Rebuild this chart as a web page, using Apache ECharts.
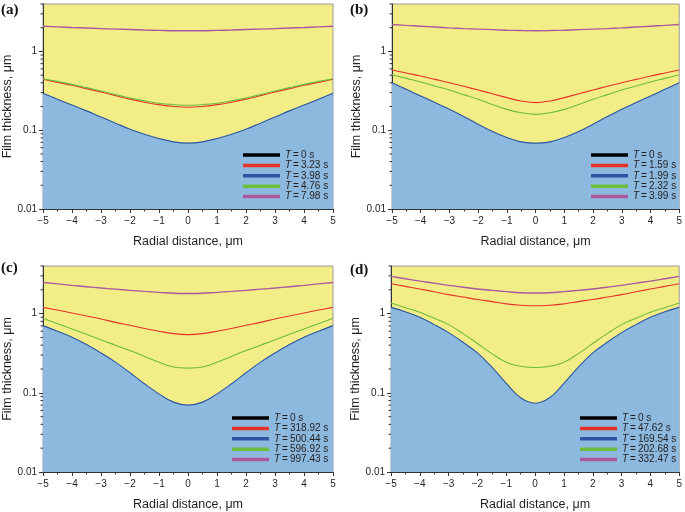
<!DOCTYPE html>
<html><head><meta charset="utf-8">
<script src="https://cdn.jsdelivr.net/npm/echarts@6/dist/echarts.min.js"></script>
<style>html,body{margin:0;padding:0;background:#fff}#c{width:685px;height:512px}</style>
</head><body><div id="c"></div>
<script>
// ---------- data ----------
const xValues = [-5, -4.5, -4, -3.5, -3, -2.5, -2, -1.5, -1, -0.5, 0, 0.5, 1, 1.5, 2, 2.5, 3, 3.5, 4, 4.5, 5];
const yTickLabels = ['0.01', '0.1', '1'];
const panelLabels = ['(a)', '(b)', '(c)', '(d)'];
const xAxisTitle = 'Radial distance, μm';
const yAxisTitle = 'Film thickness, μm';

const namesA = ['T = 0 s', 'T = 3.23 s', 'T = 3.98 s', 'T = 4.76 s', 'T = 7.98 s'];
const namesB = ['T = 0 s', 'T = 1.59 s', 'T = 1.99 s', 'T = 2.32 s', 'T = 3.99 s'];
const namesC = ['T = 0 s', 'T = 318.92 s', 'T = 500.44 s', 'T = 596.92 s', 'T = 997.43 s'];
const namesD = ['T = 0 s', 'T = 47.62 s', 'T = 169.54 s', 'T = 202.68 s', 'T = 332.47 s'];

const a_black = [];
const a_red    = [0.443, 0.405, 0.372, 0.337, 0.305, 0.275, 0.248, 0.227, 0.211, 0.200, 0.196, 0.200, 0.211, 0.227, 0.248, 0.275, 0.305, 0.337, 0.372, 0.405, 0.443];
const a_blue   = [0.294, 0.247, 0.209, 0.176, 0.147, 0.123, 0.103, 0.089, 0.0785, 0.0712, 0.0685, 0.0712, 0.0785, 0.089, 0.103, 0.123, 0.147, 0.176, 0.209, 0.247, 0.294];
const a_green  = [0.451, 0.417, 0.382, 0.347, 0.315, 0.283, 0.257, 0.236, 0.220, 0.211, 0.207, 0.211, 0.220, 0.236, 0.257, 0.283, 0.315, 0.347, 0.382, 0.417, 0.451];
const a_purple = [2.09, 2.05, 2.01, 1.98, 1.95, 1.92, 1.90, 1.87, 1.85, 1.83, 1.83, 1.83, 1.85, 1.87, 1.90, 1.92, 1.95, 1.98, 2.01, 2.05, 2.09];

const b_black = [];
const b_red    = [0.58, 0.532, 0.487, 0.442, 0.401, 0.361, 0.324, 0.29, 0.259, 0.235, 0.224, 0.235, 0.259, 0.29, 0.324, 0.361, 0.401, 0.442, 0.487, 0.532, 0.58];
const b_blue   = [0.401, 0.330, 0.272, 0.224, 0.185, 0.149, 0.119, 0.096, 0.0808, 0.0712, 0.0685, 0.0712, 0.0808, 0.096, 0.119, 0.149, 0.185, 0.224, 0.272, 0.330, 0.401];
const b_green  = [0.507, 0.455, 0.409, 0.364, 0.324, 0.283, 0.247, 0.212, 0.184, 0.167, 0.159, 0.167, 0.184, 0.212, 0.247, 0.283, 0.324, 0.364, 0.409, 0.455, 0.507];
const b_purple = [2.2, 2.14, 2.09, 2.04, 1.99, 1.95, 1.92, 1.89, 1.86, 1.84, 1.83, 1.84, 1.86, 1.89, 1.92, 1.95, 1.99, 2.04, 2.09, 2.14, 2.2];

const c_black = [];
const c_red    = [1.20, 1.11, 1.02, 0.935, 0.857, 0.777, 0.713, 0.65, 0.599, 0.56, 0.544, 0.56, 0.599, 0.65, 0.713, 0.777, 0.857, 0.935, 1.02, 1.11, 1.20];
const c_blue   = [0.706, 0.599, 0.503, 0.407, 0.319, 0.244, 0.179, 0.130, 0.097, 0.0763, 0.070, 0.0763, 0.097, 0.130, 0.179, 0.244, 0.319, 0.407, 0.503, 0.599, 0.706];
const c_green  = [0.873, 0.748, 0.641, 0.549, 0.466, 0.400, 0.342, 0.288, 0.243, 0.212, 0.205, 0.212, 0.243, 0.288, 0.342, 0.400, 0.466, 0.549, 0.641, 0.748, 0.873];
const c_purple = [2.48, 2.38, 2.28, 2.19, 2.11, 2.04, 1.97, 1.91, 1.86, 1.81, 1.80, 1.81, 1.86, 1.91, 1.97, 2.04, 2.11, 2.19, 2.28, 2.38, 2.48];

const d_black = [];
const d_red    = [2.39, 2.21, 2.05, 1.89, 1.74, 1.62, 1.51, 1.42, 1.33, 1.28, 1.26, 1.28, 1.33, 1.42, 1.51, 1.62, 1.74, 1.89, 2.05, 2.21, 2.39];
const d_blue   = [1.20, 1.06, 0.899, 0.727, 0.576, 0.435, 0.319, 0.211, 0.132, 0.0865, 0.074, 0.0865, 0.132, 0.211, 0.319, 0.435, 0.576, 0.727, 0.899, 1.06, 1.20];
const d_green  = [1.36, 1.19, 1.04, 0.873, 0.727, 0.56, 0.42, 0.313, 0.244, 0.217, 0.209, 0.217, 0.244, 0.313, 0.42, 0.56, 0.727, 0.873, 1.04, 1.19, 1.36];
const d_purple = [2.96, 2.76, 2.58, 2.43, 2.28, 2.16, 2.05, 1.97, 1.90, 1.84, 1.82, 1.84, 1.90, 1.97, 2.05, 2.16, 2.28, 2.43, 2.58, 2.76, 2.96];

// ---------- styling / layout ----------
const FONT = 'Liberation Sans';
const TXT = '#231f20';
const colors = ['#000000', '#e5332a', '#2c55a3', '#6cbd3c', '#ab589f'];
const FILL_BLUE = '#8cb9dd';
const FILL_YELLOW = '#f3ed88';

const panels = [
  { names: namesA, series: [a_black, a_red, a_blue, a_green, a_purple],
    grid: { left: 42, top: 4, width: 291, height: 205 }, legend: { left: 243, top: 150 }, label: { left: 1, top: 3 } },
  { names: namesB, series: [b_black, b_red, b_blue, b_green, b_purple],
    grid: { left: 392, top: 4, width: 291, height: 205 }, legend: { left: 591, top: 150 }, label: { left: 350, top: 3 } },
  { names: namesC, series: [c_black, c_red, c_blue, c_green, c_purple],
    grid: { left: 42, top: 266, width: 291, height: 206 }, legend: { left: 232, top: 413 }, label: { left: 1, top: 261 } },
  { names: namesD, series: [d_black, d_red, d_blue, d_green, d_purple],
    grid: { left: 391, top: 266, width: 292, height: 206 }, legend: { left: 580, top: 413 }, label: { left: 350, top: 263 } }
];

const chart = echarts.init(document.getElementById('c'), null, { renderer: 'canvas' });

const option = {
  animation: false,
  backgroundColor: '#ffffff',
  grid: [], xAxis: [], yAxis: [], series: [], legend: [], graphic: []
};

panels.forEach((p, i) => {
  option.grid.push(Object.assign({ show: true, backgroundColor: FILL_YELLOW, borderColor: '#9b9b9b', borderWidth: 1 }, p.grid));
  option.xAxis.push({
    type: 'value', gridIndex: i, min: -5, max: 5, interval: 1,
    name: xAxisTitle, nameLocation: 'middle', nameGap: 26, nameMoveOverlap: false,
    nameTextStyle: { fontFamily: FONT, fontSize: 12.5, color: TXT },
    axisLine: { show: true, onZero: false, lineStyle: { color: '#333', width: 1 } },
    axisTick: { show: true, inside: false, length: 4, lineStyle: { color: '#333' } },
    minorTick: { show: true, splitNumber: 2, length: 2.5, lineStyle: { color: '#333' } },
    splitLine: { show: false },
    axisLabel: { fontFamily: FONT, fontSize: 10, color: TXT, margin: 7,
      formatter: v => (v < 0 ? '\u2212' + Math.abs(v) : String(v)) }
  });
  option.yAxis.push({
    type: 'log', logBase: 10, gridIndex: i, min: 0.01, max: 4,
    name: yAxisTitle, nameLocation: 'middle', nameGap: 29, nameMoveOverlap: false,
    nameTextStyle: { fontFamily: FONT, fontSize: 12.5, color: TXT },
    axisLine: { show: true, onZero: false, lineStyle: { color: '#333', width: 1 } },
    axisTick: { show: true, inside: false, length: 4, lineStyle: { color: '#333' } },
    splitLine: { show: false },
    axisLabel: { fontFamily: FONT, fontSize: 10, color: TXT, margin: 6, showMaxLabel: false,
      formatter: v => {
        const s = yTickLabels.find(t => Math.abs(parseFloat(t) - v) < 1e-9 * Math.max(1, v));
        return s || '';
      } }
  });
  p.names.forEach((name, k) => {
    const s = {
      type: 'line', name: name, xAxisIndex: i, yAxisIndex: i,
      data: p.series[k].map((v, j) => [xValues[j], v]),
      showSymbol: false, smooth: 0.4,
      color: colors[k],
      itemStyle: { color: colors[k] },
      lineStyle: { color: colors[k], width: k === 4 ? 1.4 : 1.1 },
      z: k === 2 ? 2 : 3
    };
    if (k === 2) s.areaStyle = { color: FILL_BLUE, opacity: 1, origin: 'start' };
    option.series.push(s);
  });
  option.legend.push({
    orient: 'vertical', left: p.legend.left, top: p.legend.top, padding: 0,
    itemWidth: 37, itemHeight: 3.5, itemGap: 0.4, icon: 'rect',
    data: p.names, selectedMode: false,
    formatter: n => '{i|T}' + n.slice(1).replace(' = ', '\u2009=\u2009'),
    textStyle: { fontFamily: FONT, fontSize: 10, lineHeight: 10, color: TXT,
      rich: { i: { fontFamily: FONT, fontStyle: 'italic', fontSize: 10, lineHeight: 10, color: TXT } } }
  });
  option.graphic.push({
    type: 'text', left: p.label.left, top: p.label.top,
    style: { text: panelLabels[i], font: 'bold 15px "Liberation Serif"', fill: '#111' }
  });
});

chart.setOption(option);

// minor ticks on log axes at 2..9 x each decade, positioned via the axes' own scales
const minorGraphics = [];
panels.forEach((p, i) => {
  [0.01, 0.1, 1].forEach(dec => {
    for (let m = 2; m <= 9; m++) {
      const v = m * dec;
      if (v > 4.0001) continue;
      const pt = chart.convertToPixel({ xAxisIndex: i, yAxisIndex: i }, [-5, v]);
      minorGraphics.push({
        type: 'line', silent: true, z: 10,
        shape: { x1: pt[0] - 2.5, y1: pt[1], x2: pt[0], y2: pt[1] },
        style: { stroke: '#333', lineWidth: 1 }
      });
    }
  });
});
chart.setOption({ graphic: option.graphic.concat(minorGraphics) });
</script>
</body></html>
